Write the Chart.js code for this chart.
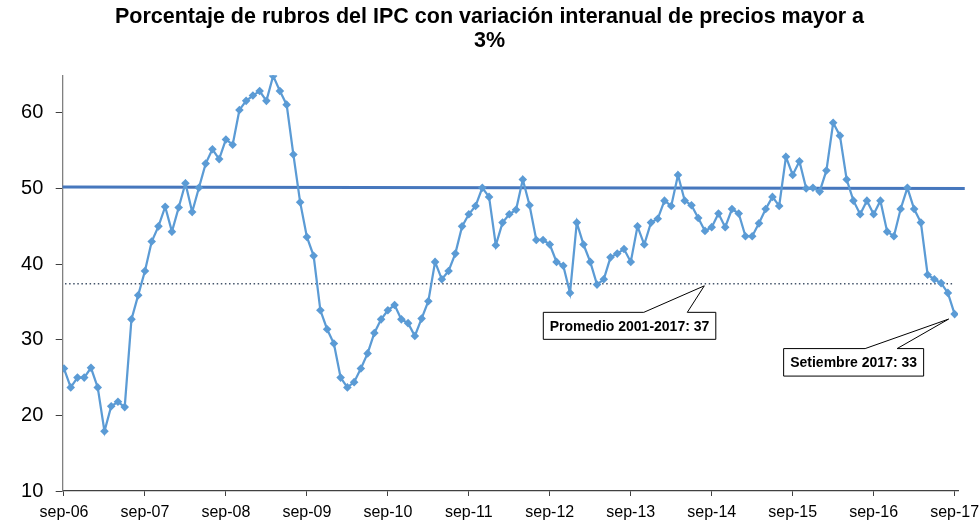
<!DOCTYPE html>
<html lang="es">
<head>
    <meta charset="UTF-8">
    <title>Rubros del IPC</title>
    <script src="https://cdn.jsdelivr.net/npm/chart.js"></script>
    <style>
        html, body { margin: 0; padding: 0; background: #fff; }
        #wrap { width: 979px; height: 521px; }
    </style>
</head>
<body>
<div id="wrap"><canvas id="myChart" width="979" height="521"></canvas></div>
<script>
// ticks del eje x (uno por año, cada 12 meses)
const tickLabels = ['sep-06', 'sep-07', 'sep-08', 'sep-09', 'sep-10', 'sep-11',
                    'sep-12', 'sep-13', 'sep-14', 'sep-15', 'sep-16', 'sep-17'];

// % de rubros con variacion interanual > 3%, mensual sep-06 .. sep-17
const porcentaje = [
    26.2, 23.7, 25.0, 25.0, 26.3, 23.7, 17.9, 21.2, 21.8, 21.1, 32.7, 35.9,
    39.1, 43.0, 45.0, 47.6, 44.3, 47.5, 50.7, 46.9, 50.1, 53.3, 55.2, 53.9,
    56.5, 55.8, 60.4, 61.6, 62.3, 62.9, 61.6, 64.9, 62.9, 61.1, 54.5, 48.2,
    43.6, 41.1, 33.9, 31.4, 29.5, 25.0, 23.7, 24.4, 26.2, 28.2, 30.9, 32.7,
    33.9, 34.6, 32.7, 32.2, 30.5, 32.8, 35.1, 40.3, 38.0, 39.1, 41.4, 45.0,
    46.6, 47.7, 50.1, 48.9, 42.5, 45.5, 46.6, 47.2, 51.2, 47.8, 43.2, 43.2,
    42.6, 40.3, 39.8, 36.2, 45.5, 42.6, 40.3, 37.3, 38.0, 40.9, 41.4, 42.0,
    40.3, 45.0, 42.6, 45.5, 46.0, 48.4, 47.7, 51.8, 48.4, 47.8, 46.1, 44.4,
    44.9, 46.7, 44.9, 47.3, 46.7, 43.7, 43.7, 45.4, 47.3, 48.9, 47.7, 54.2,
    51.8, 53.6, 50.0, 50.1, 49.6, 52.4, 58.7, 57.0, 51.2, 48.4, 46.6, 48.4,
    46.6, 48.4, 44.3, 43.7, 47.3, 50.1, 47.3, 45.5, 38.6, 38.0, 37.5, 36.2,
    33.4
];

// tendencia lineal (inicio, fin) y promedio historico
const tendencia = [50.2, 50.0];
const promedio = 37.4;
const promedioLabel = 'Promedio 2001-2017: 37';
const ultimoLabel = 'Setiembre 2017: 33';

const last = porcentaje.length - 1;
const serie = porcentaje.map(function (v, i) { return { x: i, y: v }; });

// callouts (cuadro con flecha) dibujados a mano
const callouts = {
    id: 'callouts',
    afterDatasetsDraw(chart) {
        const c = chart.ctx;
        const xs = chart.scales.x, ys = chart.scales.y;
        function box(ax, ay, left, top, w, h, b1, b2, text) {
            c.save();
            c.fillStyle = '#fff';
            c.strokeStyle = '#000';
            c.lineWidth = 1;
            c.beginPath();
            c.moveTo(left, top);
            c.lineTo(left + b1, top);
            c.lineTo(ax, ay);
            c.lineTo(left + b2, top);
            c.lineTo(left + w, top);
            c.lineTo(left + w, top + h);
            c.lineTo(left, top + h);
            c.closePath();
            c.fill();
            c.stroke();
            c.fillStyle = '#000';
            c.font = 'bold 14px "Liberation Sans", Arial, sans-serif';
            c.textAlign = 'center';
            c.textBaseline = 'middle';
            c.fillText(text, left + w / 2, top + h / 2 + 1);
            c.restore();
        }
        // promedio: ancla sobre la linea punteada
        const ax1 = xs.getPixelForValue(94.9), ay1 = ys.getPixelForValue(promedio);
        box(ax1, ay1 + 2, ax1 - 161, ay1 + 28.5, 172.5, 27, 100.5, 144, promedioLabel);
        // ultimo dato
        const ax2 = xs.getPixelForValue(last) - 6, ay2 = ys.getPixelForValue(porcentaje[last]) + 5;
        box(ax2, ay2, ax2 - 165, ay2 + 29.5, 140, 27.5, 81.5, 113.5, ultimoLabel);
    }
};

new Chart(document.getElementById('myChart'), {
    type: 'line',
    data: {
        datasets: [{
            label: 'Rubros',
            data: serie,
            borderColor: '#5b9bd5',
            backgroundColor: '#5b9bd5',
            borderWidth: 2.25,
            pointStyle: 'rectRot',
            pointRadius: 4.3,
            pointBorderWidth: 0,
            pointBackgroundColor: '#5b9bd5',
            tension: 0,
            order: 1
        }, {
            label: 'Tendencia',
            data: [{ x: -0.2, y: tendencia[0] }, { x: last + 1.5, y: tendencia[1] }],
            borderColor: '#4677bd',
            borderWidth: 3,
            pointRadius: 0,
            clip: false,
            order: 2
        }, {
            label: 'Promedio',
            data: [{ x: 0.15, y: promedio }, { x: last - 0.2, y: promedio }],
            borderColor: '#44546a',
            borderWidth: 1.5,
            borderDash: [1.5, 2.6],
            pointRadius: 0,
            order: 3
        }]
    },
    options: {
        responsive: false,
        animation: false,
        layout: { padding: 0 },
        plugins: {
            legend: { display: false },
            tooltip: { enabled: false },
            title: {
                display: true,
                text: ['Porcentaje de rubros del IPC con variación interanual de precios mayor a', '3%'],
                color: '#000',
                font: { family: '"Liberation Sans", Arial, sans-serif', size: 21.5, weight: 'bold', lineHeight: 1.12 },
                padding: { top: 5, bottom: 22 }
            }
        },
        scales: {
            x: {
                type: 'linear',
                min: -0.19,
                max: last + 0.5,
                afterBuildTicks: function (scale) {
                    scale.ticks = tickLabels.map(function (t, k) { return { value: k * 12 }; });
                },
                afterFit: function (scale) {
                    scale.height = 30;
                    scale.paddingLeft = 0;
                    scale.paddingRight = 21;
                },
                ticks: {
                    autoSkip: false,
                    maxRotation: 0,
                    padding: 7,
                    color: '#000',
                    font: { family: '"Liberation Sans", Arial, sans-serif', size: 16 },
                    callback: function (v) { return tickLabels[Math.round(v / 12)]; }
                },
                grid: { drawOnChartArea: false, drawTicks: true, tickLength: 5, color: '#404040' },
                border: { color: '#404040', width: 1.3 }
            },
            y: {
                min: 10,
                max: 65,
                afterBuildTicks: function (scale) {
                    scale.ticks = scale.ticks.filter(function (t) { return t.value <= 60; });
                },
                afterFit: function (scale) { scale.width = 62.7; },
                ticks: {
                    stepSize: 10,
                    padding: 12.4,
                    color: '#000',
                    font: { family: '"Liberation Sans", Arial, sans-serif', size: 20 }
                },
                grid: { drawOnChartArea: false, drawTicks: true, tickLength: 7, color: '#404040' },
                border: { color: '#808080', width: 1.3 }
            }
        }
    },
    plugins: [callouts]
});
</script>
</body>
</html>
